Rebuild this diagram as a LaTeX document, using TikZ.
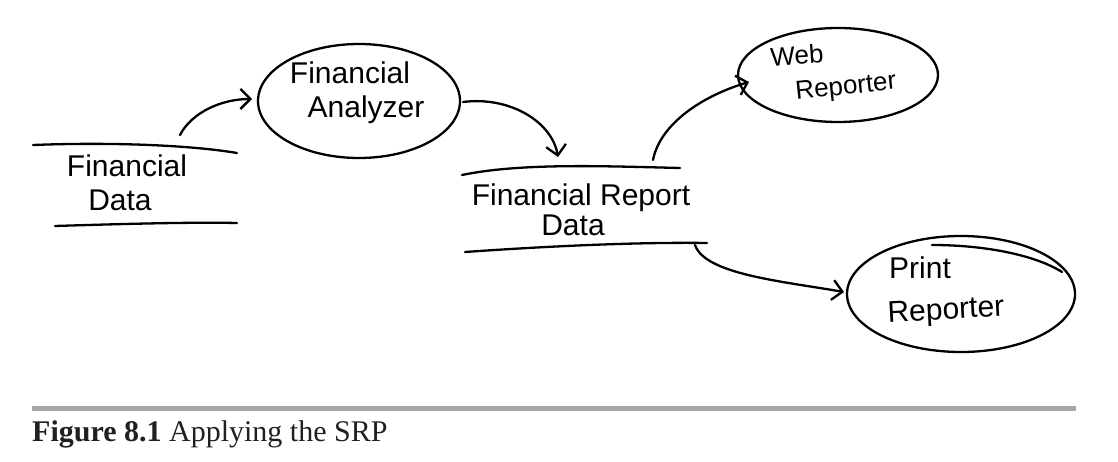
\documentclass[tikz,border=0pt]{standalone}
\usepackage{fontspec}
\setmainfont{Liberation Serif}
\newfontfamily\handfont{Liberation Sans}
\usetikzlibrary{arrows.meta,shapes.geometric}
\definecolor{rulegray}{RGB}{165,165,170}
\definecolor{captext}{RGB}{35,31,32}
\begin{document}
\begin{tikzpicture}[x=1pt,y=-1pt,
  stroke/.style={line width=2.3pt, line cap=round, line join=round},
  flow/.style={stroke, -{Straight Barb[length=10pt,width=20pt,line width=2.3pt]}},
  proc/.style={ellipse, draw, line width=2.3pt, inner sep=0pt},
  hand/.style={font=\handfont\fontsize{30}{33}\selectfont, align=center, inner sep=0pt},
  handsmall/.style={font=\handfont\fontsize{26}{28}\selectfont, align=center, inner sep=0pt},
]
\useasboundingbox (0,0) rectangle (1118,462);

% ---- Financial Data (store) ----
\node[hand] (fdtA) at (127,166) {Financial};
\node[hand] (fdtB) at (120,200) {Data};
\coordinate (fdTL) at (33,145);
\coordinate (fdTR) at (237,153);
\coordinate (fdBL) at (55,226);
\coordinate (fdBR) at (237,223);
\draw[stroke] (fdTL) .. controls (110,142) and (190,145) .. (fdTR);
\draw[stroke] (fdBL) .. controls (120,224) and (190,222) .. (fdBR);

% ---- Financial Analyzer (process) ----
\node[proc, minimum width=202pt, minimum height=114pt] (fa) at (359,101) {};
\node[hand] (fatA) at (350,73) {Financial};
\node[hand] (fatB) at (366,110) {Analyzer};

% ---- Financial Report Data (store) ----
\node[hand] (frdA) at (581,198) {Financial Report};
\node[hand] (frdB) at (573,225) {Data};
\coordinate (frdTL) at (462,175);
\coordinate (frdTR) at (680,168);
\coordinate (frdBL) at (465,252);
\coordinate (frdBR) at (707,243);
\draw[stroke] (frdTL) .. controls (520,163) and (600,166) .. (frdTR);
\draw[stroke] (frdBL) .. controls (550,246) and (640,242) .. (frdBR);

% ---- Web Reporter (process) ----
\node[proc, minimum width=200pt, minimum height=94pt] (web) at (838,75) {};
\node[handsmall, rotate=4] (webA) at (797,55) {Web};
\node[handsmall, rotate=6] (webB) at (846,88) {Reporter};

% ---- Print Reporter (process) ----
\node[proc, minimum width=228pt, minimum height=116pt] (prt) at (961,294) {};
\node[hand] (prtA) at (920,268) {Print};
\node[hand, rotate=3] (prtB) at (946,312) {Reporter};
\coordinate (prtS) at (932,245);
\coordinate (prtE) at (1062,272);
\draw[stroke] (prtS) .. controls (985,245) and (1035,255) .. (prtE);

% ---- flows ----
\coordinate (fdout) at (180,135);
\coordinate (fain) at (252,99);
\draw[flow] (fdout) .. controls (192,112) and (222,99) .. (fain);

\coordinate (faout) at (463,102);
\coordinate (frdin) at (558,157);
\draw[flow] (faout) .. controls (510,96) and (552,122) .. (frdin);

\coordinate (frdout) at (653,160);
\coordinate (webin) at (749,82);
\draw[flow] (frdout) .. controls (660,124) and (702,96) .. (webin);

\coordinate (frdout2) at (695,245);
\coordinate (prtin) at (844,292);
\draw[flow] (frdout2) .. controls (705,274) and (780,281) .. (prtin);

% ---- caption ----
\coordinate (ruleL) at (32,408.5);
\coordinate (ruleR) at (1076,408.5);
\draw[rulegray, line width=4.4pt] (ruleL) -- (ruleR);
\node[anchor=base west, inner sep=0pt, text=captext, font=\fontsize{30}{34}\selectfont] (cap) at (32,441) {\textbf{Figure 8.1} Applying the SRP};
\end{tikzpicture}
\end{document}
